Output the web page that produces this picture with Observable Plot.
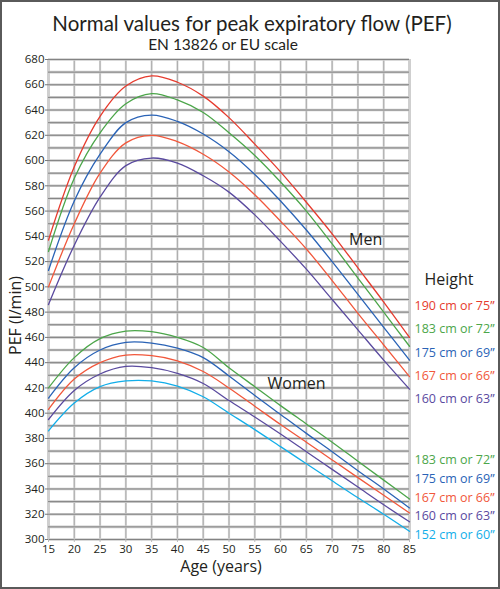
<!DOCTYPE html>
<html>
<head>
<meta charset="utf-8">
<script src="https://cdn.jsdelivr.net/npm/d3@7"></script>
<script src="https://cdn.jsdelivr.net/npm/@observablehq/plot@0.6"></script>
<style>
  html, body { margin: 0; padding: 0; background: #fff; }
  #wrap { width: 500px; height: 589px; box-sizing: border-box; border: 2px solid #5a5a5a; background: #fff; overflow: hidden; font-family: 'Open Sans', sans-serif; color: #231f20; }
  #head { height: 50px; box-sizing: border-box; padding-top: 10px; text-align: center; overflow: visible; font-family: Lato, 'Open Sans', sans-serif; }
  #title { font-size: 20.5px; line-height: 22px; letter-spacing: 0px; position: relative; left: 2px; white-space: nowrap; }
  #subtitle { font-size: 15.5px; line-height: 21.4px; letter-spacing: 0px; position: relative; left: -27px; white-space: nowrap; }
  svg { display: block; }
</style>
</head>
<body>
<div id="wrap">
  <div id="head">
    <div id="title">Normal values for peak expiratory flow (PEF)</div>
    <div id="subtitle">EN 13826 or EU scale</div>
  </div>
  <div id="chart"></div>
</div>
<script>
// ---- data ----
const ages = [15, 20, 25, 30, 35, 40, 45, 50, 55, 60, 65, 70, 75, 80, 85];
const xTicks = [15, 20, 25, 30, 35, 40, 45, 50, 55, 60, 65, 70, 75, 80, 85];
const yTicks = [300, 320, 340, 360, 380, 400, 420, 440, 460, 480, 500, 520, 540, 560, 580, 600, 620, 640, 660, 680];

// Men
const men190 = [537, 595, 635, 659, 667, 662, 651, 634, 613, 591, 567, 542, 515, 488, 460];
const men183 = [528, 586, 622, 645, 653, 648, 638, 622, 604, 583, 560, 534, 507, 480, 453];
const men175 = [513, 568, 605, 630, 636, 631, 621, 607, 589, 568, 545, 520, 494, 468, 442];
const men167 = [500, 550, 590, 614, 620, 615, 605, 591, 573, 552, 530, 505, 479, 454, 429];
const men160 = [486, 533, 571, 596, 602, 598, 588, 575, 557, 536, 514, 490, 466, 442, 419];

// Women
const women183 = [420, 444, 459, 465, 464.5, 460, 452, 436, 421, 406, 391.5, 377, 362, 347, 332];
const women175 = [412, 436, 450, 456, 455.5, 451.5, 444, 429.5, 414, 399, 384, 369.5, 354.5, 340, 325];
const women167 = [403, 427, 440, 446, 445.5, 441.5, 433, 420, 405.5, 391, 377, 363, 349, 335, 321];
const women160 = [395, 418, 431, 437, 436, 431.5, 423.5, 410, 397, 383.5, 369.5, 355.5, 341.5, 327.5, 314];
const women152 = [386, 408, 421, 425.5, 425.5, 421.5, 413, 400, 387, 373.5, 360, 346.5, 333, 320, 306.5];

const menLabels = ["190 cm or 75”", "183 cm or 72”", "175 cm or 69”", "167 cm or 66”", "160 cm or 63”"];
const womenLabels = ["183 cm or 72”", "175 cm or 69”", "167 cm or 66”", "160 cm or 63”", "152 cm or 60”"];

// ---- styles ----
const C = {red: "#e63b2e", green: "#4ca64a", blue: "#2a63b6", orange: "#f1573b", purple: "#5a4a9f", cyan: "#12aee9"};
const menSeries = [[men190, C.red], [men183, C.green], [men175, C.blue], [men167, C.orange], [men160, C.purple]];
const womenSeries = [[women183, C.green], [women175, C.blue], [women167, C.orange], [women160, C.purple], [women152, C.cyan]];
const menColors = [C.red, C.green, C.blue, C.orange, C.purple];
const womenColors = [C.green, C.blue, C.orange, C.purple, C.cyan];

const toRows = (vals) => ages.map((a, i) => ({age: a, pef: vals[i]}));
const minorY = d3.range(300, 681, 10);
const innerX = xTicks.slice(1, -1);
const edgeX = [xTicks[0], xTicks[xTicks.length - 1]];

const lineMarks = [...menSeries, ...womenSeries].map(([vals, col]) =>
  Plot.line(toRows(vals), {x: "age", y: "pef", stroke: col, strokeWidth: 1.3, curve: "catmull-rom"}));

// legend text layout (offsets from the frame's top-right corner)
const legendMarks = [];
menLabels.forEach((lab, i) => legendMarks.push(Plot.text([lab], {
  frameAnchor: "top-right", textAnchor: "start", lineAnchor: "middle",
  dx: 5, dy: 246.2 + i * 23.4, fill: menColors[i], fontSize: 12.5
})));
womenLabels.forEach((lab, i) => legendMarks.push(Plot.text([lab], {
  frameAnchor: "top-right", textAnchor: "start", lineAnchor: "middle",
  dx: 5, dy: 400.4 + i * 18.85, fill: womenColors[i], fontSize: 12.5
})));

const chart = Plot.plot({
  width: 496, height: 535,
  marginLeft: 46, marginRight: 89, marginTop: 7, marginBottom: 48,
  style: {fontFamily: "'Open Sans', sans-serif", fontSize: "11px", color: "#231f20", background: "white", overflow: "visible"},
  x: {domain: [15, 85]},
  y: {domain: [300, 680]},
  marks: [
    Plot.gridX({ticks: edgeX, stroke: "#cfcfcf", strokeWidth: 3, strokeOpacity: 1}),
    Plot.gridX({ticks: innerX, stroke: "#d9d9d9", strokeWidth: 2.2, strokeOpacity: 1}),
    Plot.gridX({ticks: innerX, stroke: "#a0a0a0", strokeWidth: 0.8, strokeOpacity: 1}),
    Plot.gridY({ticks: minorY, stroke: "#cccccc", strokeWidth: 2.6, strokeOpacity: 1}),
    Plot.gridY({ticks: minorY, stroke: "#707070", strokeWidth: 0.8, strokeOpacity: 1}),
    Plot.axisX({ticks: xTicks, tickSize: 3, tickPadding: 2, label: null, stroke: "#bbb", fontSize: 11.5}),
    Plot.axisY({ticks: yTicks, tickSize: 3, tickPadding: 1, label: null, stroke: "#777", fontSize: 11.5}),
    ...lineMarks,
    Plot.text(["Men"], {x: 76.5, y: 537, fontSize: 16, fill: "#231f20"}),
    Plot.text(["Women"], {x: 63.1, y: 423.5, fontSize: 16, fill: "#231f20"}),
    Plot.text(["Height"], {frameAnchor: "top-right", textAnchor: "start", lineAnchor: "middle", dx: 15, dy: 220.2, fontSize: 16, fill: "#231f20"}),
    Plot.text(["Age (years)"], {frameAnchor: "bottom", lineAnchor: "middle", dx: -8, dy: 27, fontSize: 16, fill: "#231f20"}),
    Plot.text(["PEF (l/min)"], {frameAnchor: "left", lineAnchor: "middle", textAnchor: "middle", rotate: -90, dx: -33, dy: 16, fontSize: 16, fill: "#231f20"}),
    ...legendMarks
  ]
});
document.getElementById("chart").appendChild(chart);
</script>
</body>
</html>
